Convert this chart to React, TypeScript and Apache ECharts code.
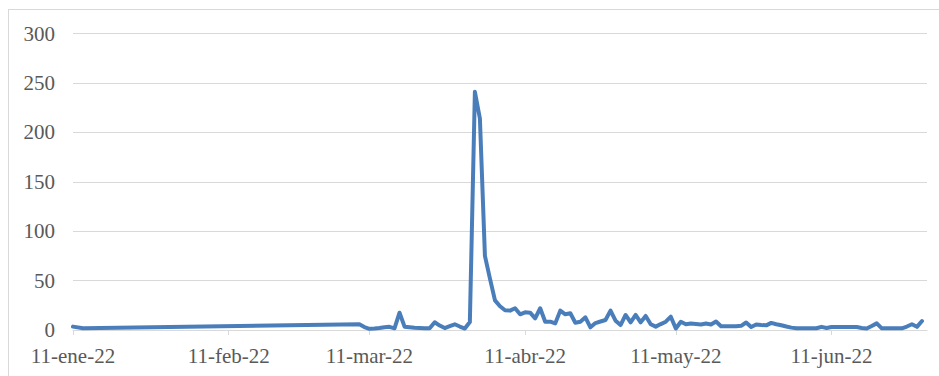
import React, { useEffect, useRef } from "react";
import * as echarts from "echarts";

// Sparse early observations
const earlyDates: string[] = ["2022-01-11", "2022-01-13"];
const earlyValues: number[] = [3.4, 1.7];

// Daily observations from 9-mar-22 to 29-jun-22
const dailyStart: [number, number, number] = [2022, 2, 9];
const dailyValues: number[] = [
  5.8, 3, 1.2, 1.5, 2, 2.8, 3.2, 1.7, 17.5, 3.4,
  2.8, 2.3, 2, 1.8, 1.7, 7.8, 4.5, 2, 4, 5.8,
  3.5, 1.5, 8, 241, 214, 75, 52, 30, 24, 20,
  19.6, 22, 15.9, 17.9, 17.5, 11.8, 22, 8.4, 8.4, 6.7,
  19.6, 15.9, 16.9, 7.4, 8.4, 12.8, 2.7, 7, 8.6, 10.1,
  19.6, 9.4, 5, 15.2, 7.8, 15.2, 7.8, 14.2, 5.8, 3.4,
  6, 8.4, 13.5, 1.5, 8.4, 5.8, 6.5, 6, 5.5, 6.5,
  5.5, 8.6, 3.8, 3.8, 3.8, 3.8, 4.2, 7.6, 3, 5.5,
  5, 4.7, 7.2, 5.8, 4.8, 3.5, 2.4, 1.8, 1.8, 1.8,
  1.8, 1.8, 3.2, 2, 3, 3, 3, 3, 3, 3,
  2, 1.5, 4, 6.7, 1.7, 1.7, 1.7, 1.7, 1.7, 3.5,
  5.8, 3.2, 9.1,
];

// Axis settings
const axisStart = "2022-01-11";
const axisEnd = "2022-06-30";
const tickMonths: string[] = ["ene", "feb", "mar", "abr", "may", "jun"];
const tickDay = 11;
const tickYear = 2022;
const yMax = 300;
const yInterval = 50;

const DAY = 86400000;

// day index relative to the axis start (avoids DST issues)
function dayIndex(y: number, m: number, d: number): number {
  const s = parseIso(axisStart);
  return Math.round((Date.UTC(y, m, d) - Date.UTC(s[0], s[1], s[2])) / DAY);
}
function parseIso(s: string): [number, number, number] {
  const [y, m, d] = s.split("-").map(Number);
  return [y, m - 1, d];
}

export default function App() {
  const ref = useRef<HTMLDivElement>(null);

  useEffect(() => {
    if (!ref.current) return;
    const chart = echarts.init(ref.current, undefined, { renderer: "svg" });

    const data: [number, number][] = [];
    earlyDates.forEach((d, i) => {
      const p = parseIso(d);
      data.push([dayIndex(p[0], p[1], p[2]), earlyValues[i]]);
    });
    dailyValues.forEach((v, i) => {
      data.push([dayIndex(dailyStart[0], dailyStart[1], dailyStart[2] + i), v]);
    });

    const tickValues = tickMonths.map((_, i) => dayIndex(tickYear, i, tickDay));
    const endP = parseIso(axisEnd);
    const s = parseIso(axisStart);

    const font = "'Liberation Serif', 'Times New Roman', serif";

    chart.setOption({
      animation: false,
      backgroundColor: "#ffffff",
      grid: { left: 73, right: 12, top: 33.5, bottom: 46, containLabel: false },
      xAxis: {
        type: "value",
        min: 0,
        max: dayIndex(endP[0], endP[1], endP[2]),
        axisLine: { show: true, lineStyle: { color: "#d9d9d9", width: 1 } },
        axisTick: {
          show: true,
          customValues: tickValues,
          length: 5,
          lineStyle: { color: "#d9d9d9", width: 1 },
        },
        axisLabel: {
          customValues: tickValues,
          color: "#595959",
          fontFamily: font,
          fontSize: 21,
          margin: 15,
          formatter: (val: number) => {
            const d = new Date(Date.UTC(s[0], s[1], s[2]) + val * DAY);
            const yy = String(d.getUTCFullYear()).slice(2);
            return `${d.getUTCDate()}-${tickMonths[d.getUTCMonth()]}-${yy}`;
          },
        },
        splitLine: { show: false },
      },
      yAxis: {
        type: "value",
        min: 0,
        max: yMax,
        interval: yInterval,
        axisLine: { show: false },
        axisTick: { show: false },
        axisLabel: {
          color: "#595959",
          fontFamily: font,
          fontSize: 21,
          margin: 18,
        },
        splitLine: { show: true, lineStyle: { color: "#d9d9d9", width: 1 } },
      },
      series: [
        {
          type: "line",
          data,
          showSymbol: false,
          symbol: "none",
          lineStyle: { color: "#4a7ebb", width: 4, cap: "round", join: "round" },
          itemStyle: { color: "#4a7ebb" },
        },
      ],
    });

    return () => chart.dispose();
  }, []);

  return (
    <div style={{ position: "fixed", left: 0, top: 0, width: 939, height: 376, background: "#fff", overflow: "hidden" }}>
      <div ref={ref} style={{ position: "absolute", left: 0, top: 0, width: 939, height: 376 }} />
      <div
        style={{
          position: "absolute",
          left: 8,
          top: 9,
          width: 940,
          height: 400,
          borderLeft: "1px solid #d9d9d9",
          borderTop: "1px solid #d9d9d9",
          pointerEvents: "none",
        }}
      />
    </div>
  );
}
